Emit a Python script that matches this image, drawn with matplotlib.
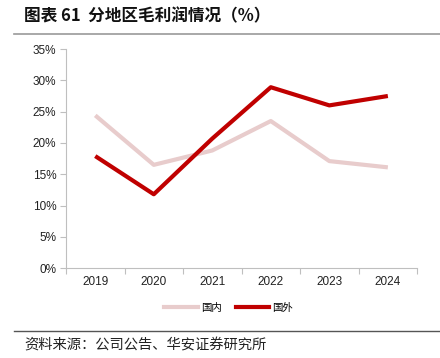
import matplotlib
matplotlib.use("Agg")
import matplotlib.pyplot as plt
from matplotlib.lines import Line2D

plt.rcParams['font.family'] = ['Liberation Sans', 'Noto Sans CJK SC', 'DejaVu Sans']

years = ["2019", "2020", "2021", "2022", "2023", "2024"]
domestic = [24.4, 16.5, 18.8, 23.5, 17.1, 16.1]
overseas = [17.9, 11.8, 20.7, 28.9, 26.0, 27.5]
yticks = [0, 5, 10, 15, 20, 25, 30, 35]
series_names = ["国内", "国外"]

fig = plt.figure(figsize=(4.4, 3.58), dpi=100)
ax = fig.add_axes([0.15, 0.251, 0.798, 0.612])

x = list(range(len(years)))
ax.plot(x, domestic, color="#E8CCCC", lw=3, solid_capstyle="butt", label=series_names[0])
ax.plot(x, overseas, color="#C00000", lw=3, solid_capstyle="butt", label=series_names[1])

ax.set_xlim(-0.5, len(years) - 0.5)
ax.set_ylim(0, 35)
ax.set_yticks(yticks)
ax.set_yticklabels([f"{v}%" for v in yticks])
ax.set_xticks(x)
ax.set_xticklabels(years)
ax.set_xticks([i - 0.5 for i in range(len(years) + 1)], minor=True)
ax.tick_params(axis="x", which="major", length=0, pad=6, labelsize=8.5, colors="#222222")
ax.tick_params(axis="x", which="minor", length=4, color="#BFBFBF", width=0.8)
ax.tick_params(axis="y", length=4, color="#BFBFBF", width=0.8, labelsize=8.5, pad=3, colors="#222222")
for s in ["top", "right"]:
    ax.spines[s].set_visible(False)
for s in ["left", "bottom"]:
    ax.spines[s].set_color("#BFBFBF")
    ax.spines[s].set_linewidth(0.8)

handles = [Line2D([0], [0], color="#E8CCCC", lw=3), Line2D([0], [0], color="#C00000", lw=3)]
fig.legend(handles, series_names, loc="center", bbox_to_anchor=(0.52, 0.14), ncol=2, frameon=False,
           handlelength=3.2, handletextpad=0.3, columnspacing=1.4,
           prop={'family': ['Noto Sans CJK SC', 'DejaVu Sans'], 'size': 7.5})

fig.text(0.055, 0.955, "图表 61  分地区毛利润情况（%）", fontsize=12, fontweight="bold",
         va="center", ha="left", family=['Noto Sans CJK SC', 'DejaVu Sans'], color="#111111")
fig.add_artist(Line2D([0.032, 1.0], [0.905, 0.905], color="#999999", lw=1.2, transform=fig.transFigure))
fig.add_artist(Line2D([0.032, 1.0], [0.075, 0.075], color="#555555", lw=1.0, transform=fig.transFigure))
fig.text(0.055, 0.036, "资料来源：公司公告、华安证券研究所", fontsize=10.3, va="center", ha="left",
         family=['Noto Sans CJK SC', 'DejaVu Sans'], color="#222222")

fig.savefig("out.png", dpi=100)
